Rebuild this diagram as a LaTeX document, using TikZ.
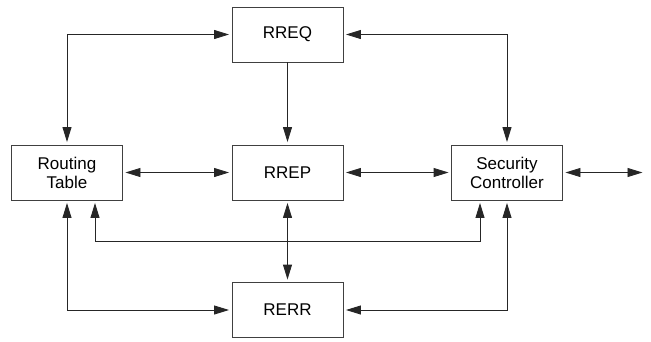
\documentclass[tikz,border=0pt]{standalone}
\usepackage{fontspec}
\setmainfont{Liberation Sans}
\usetikzlibrary{arrows.meta}
\begin{document}
\begin{tikzpicture}[x=1pt,y=-1pt,
  blk/.style={draw=black!75,line width=0.9pt,fill=white,minimum width=111pt,minimum height=55pt,align=center,inner sep=0pt,
    font=\fontsize{17}{19}\selectfont},
  conn/.style={draw=black!85,line width=0.9pt,shorten >=2.5pt,shorten <=2.5pt},
  tip/.tip={Triangle[length=15pt,width=9pt]},
  dbl/.style={conn,tip-tip},
  one/.style={conn,-tip,shorten <=0pt}]
\useasboundingbox (0,0) rectangle (651,341);
\node[blk] (rreq) at (287.5,34.5) {RREQ};
\node[blk] (rrep) at (287.5,172.5) {RREP};
\node[blk] (rt) at (67,172.5) {Routing\\Table};
\node[blk] (sc) at (507,172.5) {Security\\Controller};
\node[blk] (rerr) at (287.5,310) {RERR};
\coordinate (out) at (645,172.5);
\draw[dbl] (rt.north) |- (rreq.west);
\draw[one] (rreq.south) -- (rrep.north);
\draw[dbl] (rreq.east) -| (sc.north);
\draw[dbl] (rt.east) -- (rrep.west);
\draw[dbl] (rrep.east) -- (sc.west);
\draw[dbl] (sc.east) -- (out);
\draw[dbl] ([xshift=28pt]rt.south) -- ++(0,41) -| ([xshift=-27pt]sc.south);
\draw[dbl] (rrep.south) -- (rerr.north);
\draw[dbl] (rt.south) |- (rerr.west);
\draw[dbl] (sc.south) |- (rerr.east);
\end{tikzpicture}
\end{document}
